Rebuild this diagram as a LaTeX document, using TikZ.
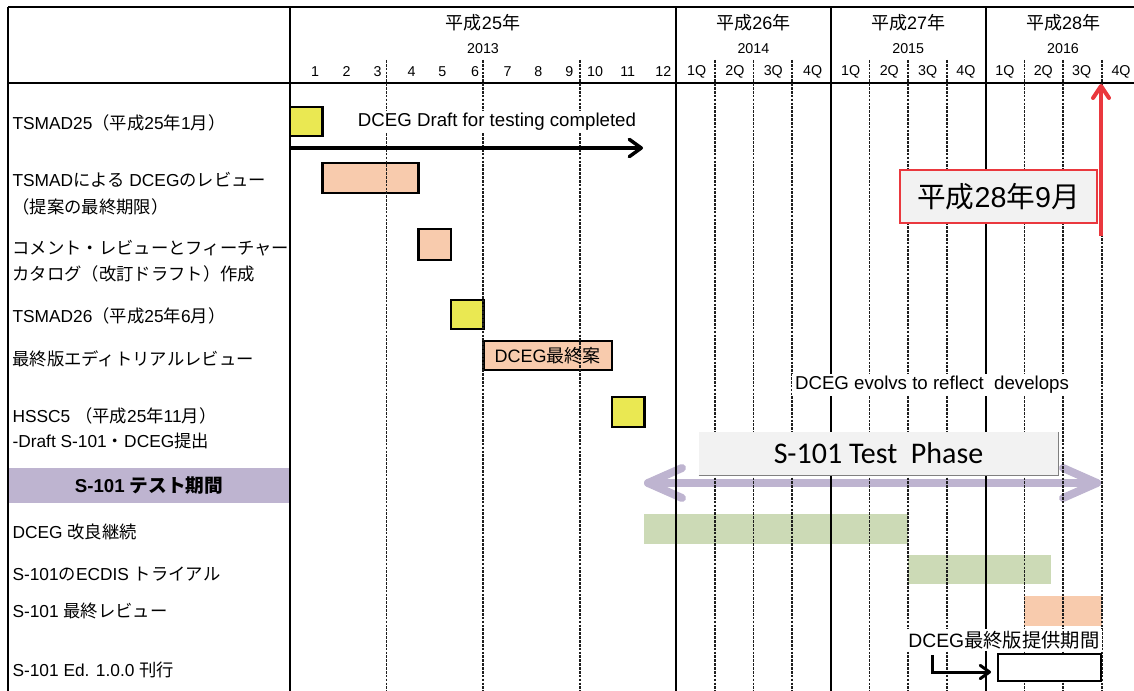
\documentclass[tikz,border=0pt]{standalone}
\usepackage{fontspec}
\setmainfont{Liberation Sans}
\newfontfamily\latinfont{Liberation Sans}
\newfontfamily\cjkfont{Noto Sans CJK JP}
\newfontfamily\phasefont{Carlito}
\usetikzlibrary{arrows.meta}

% Japanese characters in Noto, the rest in Liberation Sans
\XeTeXinterchartokenstate=1
\chardef\cjkclass=7
\count255="3000
\loop \XeTeXcharclass\count255=\cjkclass \advance\count255 by 1 \ifnum\count255<"A000 \repeat
\count255="FF00
\loop \XeTeXcharclass\count255=\cjkclass \advance\count255 by 1 \ifnum\count255<"FFF0 \repeat
\XeTeXinterchartoks 0 \cjkclass = {\cjkfont}
\XeTeXinterchartoks 4095 \cjkclass = {\cjkfont}
\XeTeXinterchartoks \cjkclass 0 = {\latinfont}
\XeTeXinterchartoks \cjkclass 4095 = {\latinfont}

\definecolor{cellYellow}{RGB}{234,232,82}
\definecolor{cellPeach}{RGB}{248,203,173}
\definecolor{cellGreen}{RGB}{204,218,182}
\definecolor{bandLilac}{RGB}{190,180,208}
\definecolor{markRed}{RGB}{234,56,62}
\definecolor{boxGray}{RGB}{242,242,242}
\definecolor{dashGray}{RGB}{30,30,30}

\tikzset{every picture/.style={line width=0.75pt}}
\tikzset{
  gridsolid/.style={line width=1.5pt},
  griddash/.style={line width=1.2pt, dashGray, dash pattern=on 2pt off 0.9pt},
  cellbox/.style={line width=2.1pt},
  rowlabel/.style={anchor=west, inner sep=0.75pt, font=\fontsize{13}{15}\selectfont},
  yearlabel/.style={inner sep=0.75pt, font=\fontsize{13.5}{15}\selectfont},
  ticklabel/.style={inner sep=0.75pt, font=\fontsize{10.7}{12}\selectfont},
  notelabel/.style={fill=white, inner sep=2pt, font=\latinfont\fontsize{14}{16}\selectfont},
  flowarrow/.style={line width=2.6pt, -{Straight Barb[length=9pt,width=13pt,line width=2.6pt,round]}},
  phasearrow/.style={bandLilac, line width=6pt, line cap=round, line join=round},
}

\begin{document}
\begin{tikzpicture}[x=0.75pt,y=0.75pt,yscale=-1,xscale=1]
\useasboundingbox (0,0) rectangle (1134,691);

% cells
\fill [bandLilac] (9,468) rectangle (289,503);
\draw [cellbox, fill=cellYellow] (290,107) -- (322.2,107) -- (322.2,136) -- (290,136) -- cycle ;
\draw [cellbox, fill=cellPeach] (322.2,163) -- (418.8,163) -- (418.8,193) -- (322.2,193) -- cycle ;
\draw [cellbox, fill=cellPeach] (418.8,229) -- (451,229) -- (451,260) -- (418.8,260) -- cycle ;
\draw [cellbox, fill=cellYellow] (451,300) -- (483.2,300) -- (483.2,329) -- (451,329) -- cycle ;
\draw (547.6,355.5) node [cellbox, draw, fill=cellPeach, minimum width=96.6pt, minimum height=21.75pt, inner sep=0pt, font=\fontsize{13.5}{16}\selectfont] (finaldraft) {DCEG最終案};
\draw [cellbox, fill=cellYellow] (612,397) -- (644.2,397) -- (644.2,427) -- (612,427) -- cycle ;
\fill [cellGreen] (644.2,514) rectangle (908.2,544);
\fill [cellGreen] (908.2,555) rectangle (1051,584);
\fill [cellPeach] (1024.3,596) rectangle (1101.7,626);

% test phase arrow
\coordinate (phaseL) at (648,483);
\coordinate (phaseR) at (1097,483);
\draw [phasearrow] (phaseL) -- (phaseR);
\draw [phasearrow] ([shift={(34,-15)}]phaseL) -- (phaseL) -- ([shift={(34,15)}]phaseL);
\draw [phasearrow] ([shift={(-34,-15)}]phaseR) -- (phaseR) -- ([shift={(-34,15)}]phaseR);

% grid
\draw [gridsolid] (8,7) -- (1134,7) ;
\draw [gridsolid] (8,83) -- (1134,83) ;
\draw [gridsolid] (8,7) -- (8,691) ;
\draw [gridsolid, line width=1.9pt] (290,7) -- (290,691) ;
\draw [gridsolid] (676.4,7) -- (676.4,691) ;
\draw [gridsolid] (830.8,7) -- (830.8,691) ;
\draw [gridsolid] (985.6,7) -- (985.6,691) ;
\draw [griddash] (386.6,60) -- (386.6,691) ;
\draw [griddash] (483.2,60) -- (483.2,691) ;
\draw [griddash] (579.8,60) -- (579.8,691) ;
\draw [griddash] (714.7,60) -- (714.7,691) ;
\draw [griddash] (753.4,60) -- (753.4,691) ;
\draw [griddash] (792.1,60) -- (792.1,691) ;
\draw [griddash] (869.5,60) -- (869.5,691) ;
\draw [griddash] (908.2,60) -- (908.2,691) ;
\draw [griddash] (946.9,60) -- (946.9,691) ;
\draw [griddash] (1024.3,60) -- (1024.3,691) ;
\draw [griddash] (1063,60) -- (1063,691) ;
\draw [griddash] (1101.7,60) -- (1101.7,691) ;

% header
\draw (483,23) node [yearlabel] (y25) {平成25年};
\draw (753.4,23) node [yearlabel] (y26) {平成26年};
\draw (908.2,23) node [yearlabel] (y27) {平成27年};
\draw (1063,23) node [yearlabel] (y28) {平成28年};
\draw (483,49) node [ticklabel] (c13) {2013};
\draw (753.4,49) node [ticklabel] (c14) {2014};
\draw (908.2,49) node [ticklabel] (c15) {2015};
\draw (1063,49) node [ticklabel] (c16) {2016};
\draw (315,72) node [ticklabel] (m1) {1};
\draw (346.7,72) node [ticklabel] (m2) {2};
\draw (377.7,72) node [ticklabel] (m3) {3};
\draw (411.7,72) node [ticklabel] (m4) {4};
\draw (442.3,72) node [ticklabel] (m5) {5};
\draw (475,72) node [ticklabel] (m6) {6};
\draw (507.7,72) node [ticklabel] (m7) {7};
\draw (538.3,72) node [ticklabel] (m8) {8};
\draw (569.3,72) node [ticklabel] (m9) {9};
\draw (595,72) node [ticklabel] (m10) {10};
\draw (627.7,72) node [ticklabel] (m11) {11};
\draw (663.3,72) node [ticklabel] (m12) {12};
\draw (696.7,72) node [ticklabel] (q141) {1Q};
\draw (735,72) node [ticklabel] (q142) {2Q};
\draw (773.3,72) node [ticklabel] (q143) {3Q};
\draw (812.7,72) node [ticklabel] (q144) {4Q};
\draw (850.7,72) node [ticklabel] (q151) {1Q};
\draw (889.3,72) node [ticklabel] (q152) {2Q};
\draw (927.7,72) node [ticklabel] (q153) {3Q};
\draw (966,72) node [ticklabel] (q154) {4Q};
\draw (1005,72) node [ticklabel] (q161) {1Q};
\draw (1043.3,72) node [ticklabel] (q162) {2Q};
\draw (1081.7,72) node [ticklabel] (q163) {3Q};
\draw (1121,72) node [ticklabel] (q164) {4Q};

% rows
\draw (11,123) node [rowlabel] (r1) {TSMAD25（平成25年1月）};
\draw (11,180) node [rowlabel] (r2a) {TSMADによる DCEGのレビュー};
\draw (11,206.5) node [rowlabel] (r2b) {（提案の最終期限）};
\draw (11,248) node [rowlabel] (r3a) {コメント・レビューとフィーチャー};
\draw (11,274) node [rowlabel] (r3b) {カタログ（改訂ドラフト）作成};
\draw (11,315.5) node [rowlabel] (r4) {TSMAD26（平成25年6月）};
\draw (11,359) node [rowlabel] (r5) {最終版エディトリアルレビュー};
\draw (11,416) node [rowlabel] (r6a) {HSSC5 （平成25年11月）};
\draw (11,440.5) node [rowlabel] (r6b) {-Draft S-101・DCEG提出};
\draw (149,485.5) node [inner sep=0.75pt, font=\bfseries\fontsize{14}{16}\selectfont] (band) {S-101 テスト期間};
\draw (11,531.5) node [rowlabel] (r7) {DCEG 改良継続};
\draw (11,574.5) node [rowlabel] (r8) {S-101のECDIS トライアル};
\draw (11,611) node [rowlabel] (r9) {S-101 最終レビュー};
\draw (11,669.5) node [rowlabel] (r10) {S-101 Ed. 1.0.0 刊行};

% notes and arrows
\draw (497,122) node [notelabel] (draftnote) {DCEG Draft for testing completed};
\coordinate (draftS) at (290,148);
\coordinate (draftE) at (643,148);
\draw [flowarrow] (draftS) -- (draftE);

\coordinate (sepBase) at (1101,236);
\coordinate (sepTip) at (1101,84);
\draw [markRed, line width=3pt, -{Straight Barb[length=9pt,width=12pt,line width=3pt,round]}] (sepBase) -- (sepTip);
\draw (998.5,196.5) node [draw=markRed, line width=1.3pt, fill=boxGray, minimum width=147.75pt, minimum height=39.75pt, inner sep=0pt, font=\fontsize{21.5}{24}\selectfont] (sepdate) {平成28年9月};

\draw (932,385) node [notelabel] (evolve) {DCEG evolvs to reflect\ \ develops};
\draw (878.5,453.5) node [fill=boxGray, minimum width=269.25pt, minimum height=32.25pt, inner sep=0pt, font=\phasefont\fontsize{22.5}{26}\selectfont] (phase) {S-101 Test\ \ Phase};
\draw [gray, line width=0.6pt] (phase.south west) -- (phase.south east) -- (phase.north east);

\draw (1004,640) node [fill=white, inner sep=1.5pt, font=\fontsize{14.5}{17}\selectfont] (supply) {DCEG最終版提供期間};
\draw (1049.5,667.5) node [cellbox, draw, fill=white, minimum width=77.25pt, minimum height=20.25pt, inner sep=0pt] (release) {};
\coordinate (supplyS) at (932,655);
\coordinate (supplyE) at (991,672);
\draw [line width=2.25pt, -{Straight Barb[length=7pt,width=10pt,line width=2.25pt,round]}] (supplyS) |- (supplyE);

\end{tikzpicture}
\end{document}
